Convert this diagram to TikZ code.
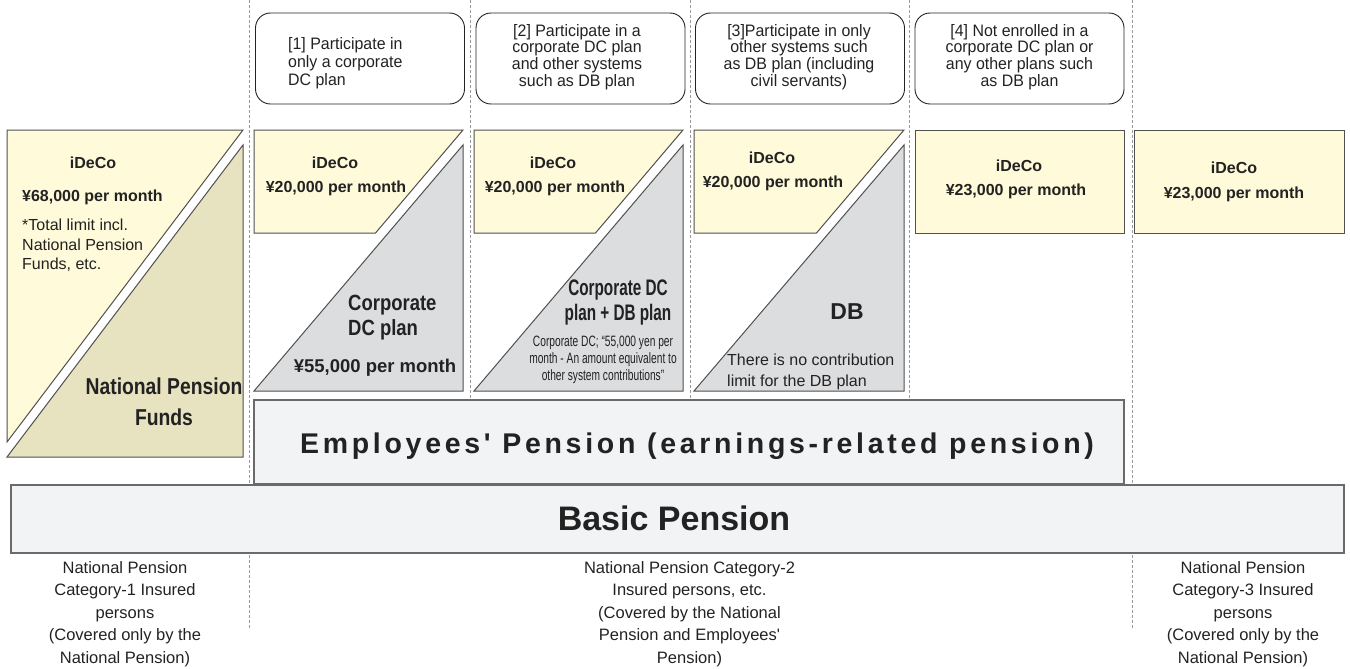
\documentclass[tikz,border=0pt]{standalone}
\usepackage{fontspec}
\setmainfont{Liberation Sans}[Ligatures=TeXOff]
\newfontfamily\narrowfont{Liberation Sans}[FakeStretch=0.84,Ligatures=TeXOff]
\newfontfamily\slimfont{Liberation Sans}[FakeStretch=0.68,Ligatures=TeXOff]
\newfontfamily\casefont{Liberation Sans}[FakeStretch=0.96,Ligatures=TeXOff]
\newfontfamily\widefont{Liberation Sans}[LetterSpace=13,Ligatures=TeXOff]
\usetikzlibrary{positioning}
\definecolor{idecofill}{HTML}{FFFAD9}
\definecolor{fundfill}{HTML}{E7E2C0}
\definecolor{planfill}{HTML}{DCDDDF}
\definecolor{basefill}{HTML}{F2F3F5}
\definecolor{edge}{HTML}{505050}
\definecolor{sepgray}{HTML}{9A9A9A}
\definecolor{ink}{HTML}{222222}
\tikzset{ideco/.style={fill=idecofill,draw=edge,line width=1pt}}
\tikzset{fund/.style={fill=fundfill,draw=edge,line width=1pt}}
\tikzset{plan/.style={fill=planfill,draw=edge,line width=1pt}}
\tikzset{pension/.style={fill=basefill,draw=edge!85,line width=1.3pt}}
\tikzset{sep/.style={draw=sepgray,dash pattern=on 3pt off 2pt,line width=0.8pt}}
\tikzset{casebox/.style={draw=ink,rounded corners=15pt,minimum width=209pt,minimum height=91pt,line width=0.9pt,inner sep=0pt}}
\tikzset{txt/.style={inner sep=0pt,text=ink}}
\tikzset{casetxt/.style={txt,align=center,font=\casefont\fontsize{16.6}{16.8}\selectfont}}
\tikzset{plain/.style={txt,font=\fontsize{16}{19.5}\selectfont}}
\tikzset{amount/.style={txt,font=\bfseries\fontsize{16}{19}\selectfont}}
\tikzset{planname/.style={txt,font=\narrowfont\bfseries\fontsize{22}{25}\selectfont}}
\tikzset{footer/.style={txt,align=center,font=\fontsize{16.5}{22.5}\selectfont}}

\begin{document}
\begin{tikzpicture}[x=1pt,y=-1pt]
  \useasboundingbox (0,0) rectangle (1350,669);
  % column separators
  \foreach \x/\y in {249/630,470/400,690/400,909/400,1132/630}
    \draw[sep] (\x,0) -- (\x,\y);

  % case headers
  \node[casebox] (case1) at (360,58.5) {};
  \node[casebox] (case2) at (580.5,58.5) {};
  \node[casebox] (case3) at (800,58.5) {};
  \node[casebox] (case4) at (1019.5,58.5) {};
  \node[casetxt,align=left,anchor=west,font=\casefont\fontsize{16.6}{18}\selectfont] (head1) at (288,63) {[1] Participate in\\only a corporate\\DC plan};
  \node[casetxt] (head2) at (577,57) {[2] Participate in a\\corporate DC plan\\and other systems\\such as DB plan};
  \node[casetxt] (head3) at (799,57) {[3]Participate in only\\other systems such\\as DB plan (including\\civil servants)};
  \node[casetxt] (head4) at (1019.5,57) {[4] Not enrolled in a\\corporate DC plan or\\any other plans such\\as DB plan};

  % category 1
  \draw[ideco] (7,130) -- (243,130) -- (7,442) -- cycle;
  \draw[fund] (243,145) -- (243,457) -- (7,457) -- cycle;
  % iDeCo strips and plan triangles
  \foreach \l/\r in {254/463,474/683,694/904}{
    \draw[ideco] (\l,130) -- (\r,130) -- (\r-87.5,233) -- (\l,233) -- cycle;
    \draw[plan] (\r,145) -- (\r,391) -- (\l,391) -- cycle;
  }
  \draw[ideco] (915,130) rectangle (1124,233);
  \draw[ideco] (1134,130) rectangle (1344,233);

  % public pensions
  \draw[pension] (254,400) rectangle (1124,484);
  \draw[pension] (11,485) rectangle (1344,553);

  % labels
  \node[amount] (ideco0) at (93,163) {iDeCo};
  \node[amount,anchor=west] (limit0) at (22,197) {¥68,000 per month};
  \node[plain,anchor=west,align=left] (note0) at (22,245.5) {*Total limit incl.\\National Pension\\Funds, etc.};
  \node[txt,align=center,font=\narrowfont\bfseries\fontsize{23}{31}\selectfont] (funds) at (164,402) {National Pension\\Funds};

  \node[amount] (ideco1) at (335,163) {iDeCo};
  \node[amount] (limit1) at (336,188) {¥20,000 per month};
  \node[planname,anchor=west,align=left] (dc1) at (348,318) {Corporate\\DC plan};
  \node[txt,font=\bfseries\fontsize{18.5}{21}\selectfont] (dclimit1) at (375,368) {¥55,000 per month};

  \node[amount] (ideco2) at (553,163) {iDeCo};
  \node[amount] (limit2) at (555,188) {¥20,000 per month};
  \node[txt,align=center,font=\slimfont\bfseries\fontsize{22.5}{25}\selectfont] (dc2) at (618,302.5) {Corporate DC\\plan + DB plan};
  \node[txt,align=center,font=\slimfont\fontsize{15}{17}\selectfont] (dcnote2) at (603,360) {Corporate DC; “55,000 yen per\\month - An amount equivalent to\\other system contributions”};

  \node[amount] (ideco3) at (772,158) {iDeCo};
  \node[amount] (limit3) at (773,183) {¥20,000 per month};
  \node[txt,font=\bfseries\fontsize{23}{25}\selectfont] (db3) at (847,312) {DB};
  \node[txt,anchor=west,align=left,font=\fontsize{16}{21}\selectfont] (dbnote3) at (727,371.5) {There is no contribution\\limit for the DB plan};

  \node[amount] (ideco4) at (1019,166) {iDeCo};
  \node[amount] (limit4) at (1016,191) {¥23,000 per month};
  \node[amount] (ideco5) at (1234,168) {iDeCo};
  \node[amount] (limit5) at (1234,194) {¥23,000 per month};

  \node[txt,anchor=base,font=\widefont\bfseries\fontsize{28.5}{30}\selectfont] (employees) at (697,453) {Employees' Pension (earnings-related pension)};
  \node[txt,anchor=base,font=\bfseries\fontsize{34}{36}\selectfont] (basic) at (674,530) {Basic Pension};

  % insured categories
  \node[footer] (cat1) at (125,614) {National Pension\\Category-1 Insured\\persons\\(Covered only by the\\National Pension)};
  \node[footer] (cat2) at (689.5,614) {National Pension Category-2\\Insured persons, etc.\\(Covered by the National\\Pension and Employees'\\Pension)};
  \node[footer] (cat3) at (1243,614) {National Pension\\Category-3 Insured\\persons\\(Covered only by the\\National Pension)};
\end{tikzpicture}
\end{document}
